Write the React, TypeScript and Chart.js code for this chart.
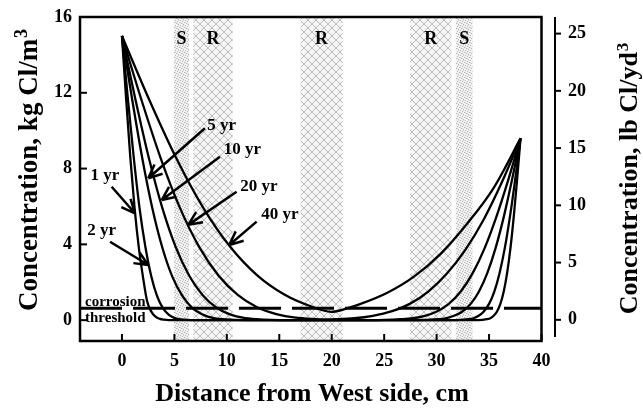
import React, { useEffect, useRef } from "react";
import { Chart, registerables } from "chart.js";

Chart.register(...registerables);

// ---- axis ticks ----
const xTicks = [0, 5, 10, 15, 20, 25, 30, 35, 40];
const yTicksKg = [0, 4, 8, 12, 16];
const yTicksLb = [0, 5, 10, 15, 20, 25];

// ---- chloride profiles (distance cm, concentration kg Cl/m3) ----
const dist1yr = [0, 0.4, 0.8, 1.2, 1.6, 2.0, 2.4, 2.8, 3.2, 3.6, 4.0, 5.0, 34.0, 34.8, 35.12, 35.44, 35.76, 36.08, 36.4, 36.72, 37.04, 37.36, 37.68, 38];
const conc1yr = [15, 11.66, 8.57, 5.94, 3.87, 2.3, 1.0, 0.45, 0.18, 0.07, 0.03, 0, 0, 0.05, 0.1, 0.23, 0.46, 0.86, 1.51, 2.48, 3.8, 5.49, 7.46, 9.6];

const dist2yr = [0, 0.56, 1.12, 1.68, 2.24, 2.8, 3.36, 3.92, 4.48, 5.04, 5.6, 7.0, 31.75, 33, 33.5, 34, 34.5, 35, 35.5, 36, 36.5, 37, 37.5, 38];
const conc2yr = [15, 11.7, 8.6, 5.9, 3.85, 2.3, 1.25, 0.62, 0.28, 0.11, 0.04, 0, 0, 0.05, 0.1, 0.23, 0.46, 0.86, 1.51, 2.48, 3.8, 5.49, 7.46, 9.6];

const dist5yr = [0, 0.96, 1.92, 2.88, 3.84, 4.8, 5.76, 6.72, 7.68, 8.64, 9.6, 12.0, 28.1, 30.08, 30.87, 31.66, 32.46, 33.25, 34.04, 34.83, 35.62, 36.42, 37.21, 38];
const conc5yr = [15, 11.7, 8.6, 5.95, 3.85, 2.3, 1.28, 0.64, 0.3, 0.12, 0.05, 0, 0, 0.05, 0.1, 0.23, 0.46, 0.86, 1.51, 2.48, 3.8, 5.49, 7.46, 9.6];

const dist10yr = [0, 1.28, 2.56, 3.84, 5.12, 6.4, 7.68, 8.96, 10.24, 11.52, 12.8, 16.0, 23.75, 26.6, 27.74, 28.88, 30.02, 31.16, 32.3, 33.44, 34.58, 35.72, 36.86, 38];
const conc10yr = [15, 11.66, 8.57, 5.94, 3.87, 2.36, 1.33, 0.68, 0.32, 0.13, 0.05, 0, 0, 0.05, 0.1, 0.23, 0.46, 0.86, 1.51, 2.48, 3.8, 5.49, 7.46, 9.6];

const dist20yr = [0, 1.84, 3.68, 5.52, 7.36, 9.2, 11.04, 12.88, 14.72, 16.56, 18.4, 19.4, 20.4, 22.16, 23.92, 25.68, 27.44, 29.2, 30.96, 32.72, 34.48, 36.24, 38];
const conc20yr = [15, 11.66, 8.57, 5.94, 3.87, 2.36, 1.33, 0.68, 0.32, 0.13, 0.06, 0.04, 0.05, 0.1, 0.23, 0.46, 0.86, 1.51, 2.45, 3.7, 5.3, 7.3, 9.6];

const dist40yr = [0, 2.58, 5.16, 7.74, 10.32, 12.9, 15.48, 18.06, 19.95, 21.5, 22.76, 25.3, 27.84, 30.38, 32.92, 35.46, 38];
const conc40yr = [15, 11.66, 8.57, 5.94, 3.87, 2.36, 1.35, 0.72, 0.44, 0.63, 0.86, 1.45, 2.3, 3.5, 5.1, 7.0, 9.6];

const thresholdDist = [-4, 40];
const thresholdConc = [0.63, 0.63];

// ---- reinforcement bands ----
const bandKinds = ["S", "R", "R", "R", "S"];
const bandFrom = [4.96, 6.8, 17.03, 27.45, 31.83];
const bandTo = [6.39, 10.55, 21.04, 31.42, 33.42];
const bandLabelConc = 14.8;

// ---- age annotations ----
const ageLabels = ["1 yr", "2 yr", "5 yr", "10 yr", "20 yr", "40 yr"];
const labelDist = [-1.62, -1.94, 9.51, 11.49, 13.06, 15.06];
const labelConc = [7.61, 4.71, 10.26, 8.98, 7.03, 5.55];
const arrowFromDist = [-0.98, -1.14, 7.91, 9.34, 10.93, 12.84];
const arrowFromConc = [7.04, 4.14, 10.13, 8.63, 6.78, 5.2];
const arrowToDist = [1.24, 2.51, 2.51, 3.79, 6.32, 10.23];
const arrowToConc = [5.64, 2.91, 7.49, 6.34, 5.03, 3.97];

const SERIF = '"Liberation Serif", "Times New Roman", serif';

function pts(xs: number[], ys: number[]) {
  return xs.map((x, i) => ({ x, y: ys[i] }));
}

function makePattern(kind: string): CanvasPattern | string {
  const c = document.createElement("canvas");
  const g = c.getContext("2d");
  if (!g) return "#eee";
  if (kind === "R") {
    c.width = 8;
    c.height = 8;
    g.fillStyle = "#f7f7f7";
    g.fillRect(0, 0, 8, 8);
    g.fillStyle = "#bdbdbd";
    for (let i = 0; i < 8; i++) {
      g.fillRect(i, i, 1, 1);
      g.fillRect(7 - i, i, 1, 1);
    }
    g.fillStyle = "#dedede";
    g.fillRect(3, 1, 1, 1);
    g.fillRect(5, 6, 1, 1);
    g.fillRect(1, 4, 1, 1);
  } else {
    c.width = 5;
    c.height = 5;
    g.fillStyle = "#f3f3f3";
    g.fillRect(0, 0, 5, 5);
    g.fillStyle = "#b4b4b4";
    [[0, 0], [2, 1], [4, 2], [1, 3], [3, 4]].forEach(([a, b]) => g.fillRect(a, b, 1, 1));
    g.fillStyle = "#d6d6d6";
    [[3, 0], [0, 2], [2, 3]].forEach(([a, b]) => g.fillRect(a, b, 1, 1));
  }
  return g.createPattern(c, "repeat") || "#eee";
}

function drawRotatedTitle(ctx: CanvasRenderingContext2D, main: string, sup: string, bx: number, cy: number, size: number) {
  ctx.save();
  ctx.translate(bx, cy);
  ctx.rotate(-Math.PI / 2);
  const mainFont = `bold ${size}px ${SERIF}`;
  const supFont = `bold ${Math.round(size * 0.65)}px ${SERIF}`;
  ctx.font = mainFont;
  const w1 = ctx.measureText(main).width;
  ctx.font = supFont;
  const w2 = ctx.measureText(sup).width;
  const start = -(w1 + w2 + 1) / 2;
  ctx.textAlign = "left";
  ctx.textBaseline = "alphabetic";
  ctx.fillStyle = "#000";
  ctx.font = mainFont;
  ctx.fillText(main, start, 0);
  ctx.font = supFont;
  ctx.fillText(sup, start + w1 + 1, -size * 0.36);
  ctx.restore();
}

const decorPlugin = {
  id: "decor",
  beforeDatasetsDraw(chart: any) {
    const { ctx, chartArea: a, scales } = chart;
    const xs = scales.x;
    const ys = scales.y;
    ctx.save();
    const patS = makePattern("S");
    const patR = makePattern("R");
    for (let i = 0; i < bandKinds.length; i++) {
      const l = xs.getPixelForValue(bandFrom[i]);
      const r = xs.getPixelForValue(bandTo[i]);
      ctx.fillStyle = bandKinds[i] === "S" ? patS : patR;
      ctx.fillRect(l, a.top, r - l, a.bottom - a.top);
    }
    ctx.fillStyle = "#000";
    ctx.font = `bold 18px ${SERIF}`;
    ctx.textAlign = "center";
    ctx.textBaseline = "middle";
    for (let i = 0; i < bandKinds.length; i++) {
      const cx = xs.getPixelForValue((bandFrom[i] + bandTo[i]) / 2);
      ctx.fillText(bandKinds[i], cx, ys.getPixelForValue(bandLabelConc));
    }
    ctx.restore();
  },
  afterDatasetsDraw(chart: any) {
    const { ctx, chartArea: a, scales } = chart;
    const xs = scales.x;
    const ys = scales.y;
    const y2 = scales.y2;
    ctx.save();
    ctx.strokeStyle = "#000";
    ctx.fillStyle = "#000";

    // frame
    ctx.lineWidth = 2.5;
    ctx.strokeRect(a.left, a.top, a.right - a.left, a.bottom - a.top);

    // left ticks + labels
    ctx.lineWidth = 2;
    ctx.font = `bold 18px ${SERIF}`;
    ctx.textAlign = "right";
    ctx.textBaseline = "middle";
    yTicksKg.forEach((v) => {
      const y = ys.getPixelForValue(v);
      ctx.beginPath();
      ctx.moveTo(a.left, y);
      ctx.lineTo(a.left + 7, y);
      ctx.stroke();
      ctx.fillText(String(v), a.left - 8, y);
    });

    // bottom ticks + labels
    ctx.textAlign = "center";
    xTicks.forEach((v) => {
      const x = xs.getPixelForValue(v);
      ctx.beginPath();
      ctx.moveTo(x, a.bottom);
      ctx.lineTo(x, a.bottom - 7);
      ctx.stroke();
      ctx.fillText(String(v), x, a.bottom + 20);
    });

    // separate right axis
    const ax = a.right + 13.5;
    ctx.lineWidth = 2;
    ctx.beginPath();
    ctx.moveTo(ax, a.top);
    ctx.lineTo(ax, a.bottom - 4);
    ctx.stroke();
    ctx.textAlign = "left";
    yTicksLb.forEach((v) => {
      const y = y2.getPixelForValue(v);
      ctx.beginPath();
      ctx.moveTo(ax, y);
      ctx.lineTo(ax + 6, y);
      ctx.stroke();
      ctx.fillText(String(v), ax + 13, y);
    });

    // threshold text
    ctx.font = `bold 15px ${SERIF}`;
    ctx.textAlign = "left";
    ctx.textBaseline = "alphabetic";
    ctx.fillText("corrosion", a.left + 5, ys.getPixelForValue(0.75));
    ctx.fillText("threshold", a.left + 5, ys.getPixelForValue(-0.08));

    // age labels and arrows
    ctx.font = `bold 17px ${SERIF}`;
    ctx.textAlign = "center";
    ctx.textBaseline = "middle";
    for (let i = 0; i < ageLabels.length; i++) {
      ctx.fillText(ageLabels[i], xs.getPixelForValue(labelDist[i]), ys.getPixelForValue(labelConc[i]));
      const x1 = xs.getPixelForValue(arrowFromDist[i]);
      const y1 = ys.getPixelForValue(arrowFromConc[i]);
      const x2 = xs.getPixelForValue(arrowToDist[i]);
      const y2p = ys.getPixelForValue(arrowToConc[i]);
      ctx.lineWidth = 2.5;
      ctx.beginPath();
      ctx.moveTo(x1, y1);
      ctx.lineTo(x2, y2p);
      const ang = Math.atan2(y2p - y1, x2 - x1);
      [-0.42, 0.42].forEach((d) => {
        ctx.moveTo(x2, y2p);
        ctx.lineTo(x2 - 15 * Math.cos(ang + d), y2p - 15 * Math.sin(ang + d));
      });
      ctx.stroke();
    }

    // axis titles
    ctx.font = `bold 26px ${SERIF}`;
    ctx.textAlign = "center";
    ctx.textBaseline = "alphabetic";
    ctx.fillText("Distance from West side, cm", 312, 401);
    drawRotatedTitle(ctx, "Concentration, kg Cl/m", "3", 37, 170, 27);
    drawRotatedTitle(ctx, "Concentration, lb Cl/yd", "3", 637, 178.5, 26);

    ctx.restore();
  },
};

export default function App() {
  const ref = useRef<HTMLCanvasElement | null>(null);

  useEffect(() => {
    if (!ref.current) return;
    const curve = (xs: number[], ys: number[], label: string) => ({
      label,
      data: pts(xs, ys),
      borderColor: "#000",
      borderWidth: 2.3,
      pointRadius: 0,
      fill: false,
      cubicInterpolationMode: "monotone" as const,
    });
    const chart = new Chart(ref.current, {
      type: "line",
      data: {
        datasets: [
          curve(dist1yr, conc1yr, "1 yr"),
          curve(dist2yr, conc2yr, "2 yr"),
          curve(dist5yr, conc5yr, "5 yr"),
          curve(dist10yr, conc10yr, "10 yr"),
          curve(dist20yr, conc20yr, "20 yr"),
          curve(dist40yr, conc40yr, "40 yr"),
          {
            label: "corrosion threshold",
            data: pts(thresholdDist, thresholdConc),
            borderColor: "#000",
            borderWidth: 3,
            borderDash: [42, 11],
            pointRadius: 0,
            fill: false,
          },
        ],
      },
      options: {
        animation: false,
        responsive: false,
        maintainAspectRatio: false,
        events: [],
        layout: { padding: { left: 80, right: 101.5, top: 17, bottom: 67 } },
        plugins: {
          legend: { display: false },
          tooltip: { enabled: false },
          title: { display: false },
        },
        scales: {
          x: { type: "linear", min: -4, max: 40, display: false },
          y: { type: "linear", min: -1.1, max: 16, display: false },
          y2: { type: "linear", position: "right", min: -1.85, max: 26.45, display: false },
        },
      },
      plugins: [decorPlugin as any],
    });
    return () => chart.destroy();
  }, []);

  return (
    <div style={{ position: "absolute", left: 0, top: 0, width: 643, height: 408, background: "#fff" }}>
      <canvas ref={ref} width={643} height={408} style={{ display: "block" }} />
    </div>
  );
}
